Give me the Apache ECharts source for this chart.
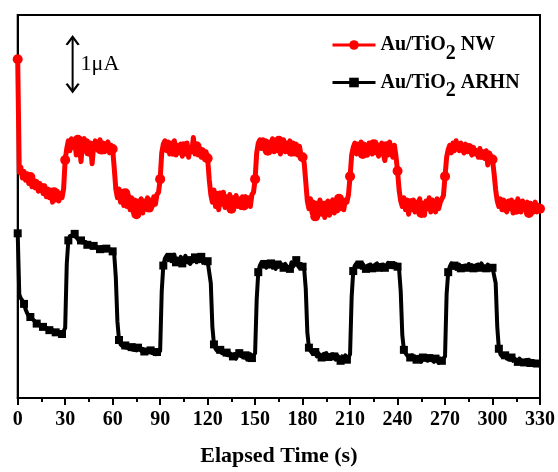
<!DOCTYPE html>
<html>
<head>
<meta charset="utf-8">
<script src="https://cdn.jsdelivr.net/npm/echarts@6/dist/echarts.min.js"></script>
<style>
  html, body { margin: 0; padding: 0; background: #fff; }
  #chart { width: 558px; height: 472px; }
</style>
</head>
<body>
<div id="chart"></div>
<script>
// Photocurrent traces, one sample per second from t = 0 s to t = 330 s (µA, arbitrary offset)
const sampleStep = 1;

const nwCurrent = [
  6.19,
  4.12, 4.22, 4.02, 4.14, 3.98, 4.10, 3.92, 4.04, 3.86, 3.99,
  3.84, 3.96, 3.78, 3.92, 3.84, 3.74, 3.88, 3.68, 3.82, 3.66,
  3.80, 3.58, 3.76, 3.62, 3.78, 3.60, 3.74, 3.66, 3.82, 4.35,
  4.56, 4.70, 4.52, 4.74, 4.58, 4.70, 4.44, 4.72, 4.60, 4.32,
  4.66, 4.74, 4.56, 4.70, 4.50, 4.66, 4.28, 4.60, 4.70, 4.56,
  4.52, 4.72, 4.54, 4.66, 4.50, 4.64, 4.68, 4.48, 4.62, 4.55,
  4.20, 3.82, 3.66, 3.82, 3.58, 3.78, 3.52, 3.74, 3.50, 3.70,
  3.44, 3.66, 3.40, 3.62, 3.36, 3.60, 3.42, 3.64, 3.38, 3.60,
  3.46, 3.66, 3.48, 3.62, 3.50, 3.68, 3.54, 3.72, 3.76, 4.00,
  4.48, 4.64, 4.70, 4.52, 4.68, 4.46, 4.66, 4.50, 4.70, 4.44,
  4.62, 4.48, 4.64, 4.42, 4.60, 4.46, 4.66, 4.40, 4.58, 4.50,
  4.76, 4.46, 4.60, 4.44, 4.56, 4.40, 4.54, 4.36, 4.50, 4.38,
  4.00, 3.72, 3.58, 3.80, 3.50, 3.74, 3.44, 3.70, 3.54, 3.76,
  3.48, 3.68, 3.50, 3.72, 3.46, 3.66, 3.52, 3.70, 3.50, 3.64,
  3.48, 3.68, 3.52, 3.68, 3.54, 3.66, 3.50, 3.72, 3.76, 4.00,
  4.48, 4.66, 4.72, 4.56, 4.72, 4.54, 4.70, 4.52, 4.68, 4.56,
  4.74, 4.50, 4.66, 4.52, 4.70, 4.46, 4.64, 4.72, 4.50, 4.66,
  4.54, 4.70, 4.50, 4.66, 4.46, 4.64, 4.44, 4.60, 4.44, 4.40,
  4.30, 3.95, 3.60, 3.46, 3.64, 3.38, 3.58, 3.32, 3.56, 3.40,
  3.62, 3.36, 3.56, 3.30, 3.52, 3.60, 3.34, 3.54, 3.62, 3.38,
  3.56, 3.42, 3.64, 3.46, 3.60, 3.44, 3.62, 3.58, 3.72, 4.05,
  4.44, 4.58, 4.66, 4.46, 4.64, 4.50, 4.68, 4.46, 4.64, 4.52,
  4.44, 4.66, 4.50, 4.46, 4.64, 4.48, 4.62, 4.42, 4.58, 4.66,
  4.46, 4.34, 4.60, 4.44, 4.68, 4.48, 4.40, 4.62, 4.42, 4.15,
  3.80, 3.60, 3.50, 3.66, 3.44, 3.62, 3.36, 3.56, 3.44, 3.62,
  3.40, 3.58, 3.46, 3.64, 3.38, 3.56, 3.34, 3.60, 3.46, 3.66,
  3.40, 3.62, 3.48, 3.40, 3.64, 3.46, 3.58, 3.64, 3.70, 4.05,
  4.40, 4.54, 4.62, 4.48, 4.66, 4.52, 4.70, 4.60, 4.52, 4.66,
  4.54, 4.48, 4.64, 4.50, 4.57, 4.60, 4.44, 4.58, 4.46, 4.52,
  4.40, 4.56, 4.44, 4.50, 4.38, 4.52, 4.26, 4.48, 4.42, 4.36,
  4.10, 3.80, 3.60, 3.50, 3.64, 3.44, 3.62, 3.48, 3.40, 3.60,
  3.46, 3.62, 3.38, 3.58, 3.44, 3.64, 3.46, 3.40, 3.60, 3.46,
  3.42, 3.58, 3.38, 3.56, 3.44, 3.40, 3.58, 3.40, 3.52, 3.46
];

const arhnCurrent = [
  3.01,
  1.89, 1.82, 1.78, 1.72, 1.62, 1.55, 1.50, 1.48, 1.45, 1.42,
  1.40, 1.36, 1.38, 1.34, 1.31, 1.30, 1.27, 1.28, 1.25, 1.24,
  1.22, 1.24, 1.21, 1.20, 1.22, 1.18, 1.20, 1.17, 1.22, 1.28,
  2.45, 2.88, 2.96, 2.99, 2.97, 3.00, 2.94, 2.90, 2.86, 2.88,
  2.84, 2.82, 2.85, 2.80, 2.82, 2.79, 2.81, 2.78, 2.80, 2.76,
  2.78, 2.72, 2.76, 2.74, 2.70, 2.73, 2.72, 2.69, 2.71, 2.68,
  2.62, 2.20, 1.40, 1.06, 0.98, 0.95, 0.93, 0.96, 0.92, 0.94,
  0.90, 0.93, 0.88, 0.91, 0.87, 0.92, 0.89, 0.86, 0.90, 0.85,
  0.88, 0.86, 0.84, 0.87, 0.82, 0.85, 0.80, 0.84, 0.82, 0.86,
  1.95, 2.42, 2.55, 2.60, 2.52, 2.58, 2.50, 2.56, 2.62, 2.48,
  2.55, 2.50, 2.58, 2.46, 2.54, 2.60, 2.50, 2.52, 2.45, 2.56,
  2.50, 2.57, 2.48, 2.54, 2.50, 2.58, 2.47, 2.52, 2.55, 2.50,
  2.48, 2.10, 1.30, 0.98, 0.90, 0.86, 0.84, 0.88, 0.82, 0.85,
  0.80, 0.83, 0.78, 0.82, 0.84, 0.76, 0.80, 0.72, 0.79, 0.82,
  0.77, 0.80, 0.74, 0.78, 0.70, 0.76, 0.80, 0.73, 0.78, 0.82,
  1.80, 2.30, 2.42, 2.48, 2.40, 2.45, 2.38, 2.44, 2.40, 2.46,
  2.38, 2.42, 2.36, 2.44, 2.40, 2.47, 2.41, 2.38, 2.45, 2.40,
  2.43, 2.36, 2.48, 2.40, 2.44, 2.52, 2.42, 2.38, 2.45, 2.40,
  2.36, 2.00, 1.20, 0.92, 0.86, 0.82, 0.80, 0.84, 0.76, 0.82,
  0.79, 0.74, 0.80, 0.77, 0.82, 0.75, 0.78, 0.72, 0.80, 0.76,
  0.70, 0.78, 0.74, 0.68, 0.76, 0.72, 0.78, 0.70, 0.74, 0.80,
  1.85, 2.32, 2.42, 2.46, 2.40, 2.44, 2.38, 2.45, 2.41, 2.36,
  2.42, 2.39, 2.44, 2.37, 2.42, 2.40, 2.46, 2.38, 2.43, 2.40,
  2.44, 2.38, 2.42, 2.47, 2.40, 2.43, 2.39, 2.42, 2.45, 2.40,
  2.34, 1.95, 1.15, 0.88, 0.82, 0.78, 0.80, 0.74, 0.78, 0.72,
  0.76, 0.70, 0.75, 0.72, 0.66, 0.74, 0.70, 0.76, 0.68, 0.73,
  0.70, 0.74, 0.66, 0.72, 0.69, 0.64, 0.72, 0.68, 0.70, 0.76,
  1.90, 2.30, 2.40, 2.46, 2.38, 2.42, 2.36, 2.40, 2.44, 2.37,
  2.41, 2.36, 2.42, 2.38, 2.45, 2.39, 2.43, 2.37, 2.42, 2.40,
  2.44, 2.38, 2.46, 2.40, 2.42, 2.37, 2.44, 2.40, 2.43, 2.38,
  2.40, 2.10, 1.30, 0.90, 0.80, 0.76, 0.74, 0.78, 0.72, 0.75,
  0.70, 0.74, 0.68, 0.72, 0.70, 0.66, 0.72, 0.68, 0.70, 0.65,
  0.69, 0.66, 0.70, 0.64, 0.68, 0.62, 0.66, 0.63, 0.60, 0.62
];

// The NW trace carries a circle marker every 7.5 s (nearest sample)
const nwMarkerPeriod = 7.5;
// The ARHN trace carries a square marker every n-th sample
const arhnMarkerEvery = 4;

// Time axis
const timeMin = 0, timeMax = 330, timeTickStep = 30;
// Current axis (µA)
const currentMin = 0, currentMax = 7;

// 1 µA scale bar
const scaleBarTime = 34.7;
const scaleBarBase = 5.6;
const scaleBarSpan = 1;
const scaleBarText = '1μA';

const seriesNames = ['Au/TiO2 NW', 'Au/TiO2 ARHN'];

const serif = "'Liberation Serif', 'Times New Roman', serif";

const toPairs = (values) => values.map((v, i) => [i * sampleStep, v]);
const isNwMarker = (t) => Math.round(Math.round(t / nwMarkerPeriod) * nwMarkerPeriod) === t;

const chart = echarts.init(document.getElementById('chart'), null, { renderer: 'canvas' });

chart.setOption({
  animation: false,
  backgroundColor: '#fff',
  grid: {
    left: 17.7, right: 17.5, top: 15, bottom: 71,
    show: true,
    borderColor: '#000',
    borderWidth: 2,
    backgroundColor: 'transparent'
  },
  legend: {
    data: seriesNames,
    orient: 'vertical',
    left: 331,
    top: 35,
    padding: 0,
    itemGap: 9,
    itemWidth: 43,
    itemHeight: 12,
    lineStyle: { width: 3 },
    selectedMode: false,
    formatter: (name) => name.replace('TiO2', 'TiO{s|2}'),
    textStyle: {
      fontFamily: serif,
      fontWeight: 'bold',
      fontSize: 20,
      color: '#000',
      rich: {
        s: {
          fontFamily: serif,
          fontWeight: 'bold',
          fontSize: 20,
          color: '#000',
          padding: [17, 0, 0, 0]
        }
      }
    }
  },
  xAxis: {
    type: 'value',
    min: timeMin,
    max: timeMax,
    interval: timeTickStep,
    name: 'Elapsed Time (s)',
    nameLocation: 'middle',
    nameGap: 47,
    nameTextStyle: { fontFamily: serif, fontWeight: 'bold', fontSize: 22, color: '#000' },
    axisLine: { show: true, onZero: false, lineStyle: { color: '#000', width: 2 } },
    axisTick: { show: true, inside: false, length: 7, lineStyle: { color: '#000', width: 2 } },
    minorTick: { show: true, splitNumber: 2, length: 4, lineStyle: { color: '#000', width: 2 } },
    axisLabel: { fontFamily: serif, fontWeight: 'bold', fontSize: 20, color: '#000', margin: 12 },
    splitLine: { show: false },
    minorSplitLine: { show: false }
  },
  yAxis: {
    type: 'value',
    min: currentMin,
    max: currentMax,
    axisLine: { show: true, onZero: false, lineStyle: { color: '#000', width: 2 } },
    axisTick: { show: false },
    axisLabel: { show: false },
    splitLine: { show: false }
  },
  series: [
    {
      name: seriesNames[0],
      type: 'line',
      data: toPairs(nwCurrent),
      color: '#ff0000',
      symbol: 'circle',
      showSymbol: true,
      showAllSymbol: true,
      symbolSize: (val) => (isNwMarker(val[0]) ? 10 : 0),
      lineStyle: { color: '#ff0000', width: 5, join: 'round' },
      itemStyle: { color: '#ff0000' },
      z: 3
    },
    {
      name: seriesNames[1],
      type: 'line',
      data: toPairs(arhnCurrent),
      color: '#000000',
      symbol: 'rect',
      showSymbol: true,
      showAllSymbol: true,
      symbolSize: (val, params) => (params.dataIndex % arhnMarkerEvery === 0 ? 8 : 0),
      lineStyle: { color: '#000000', width: 4, join: 'round' },
      itemStyle: { color: '#000000' },
      z: 3
    },
    {
      name: 'scale',
      type: 'line',
      silent: true,
      data: [
        { value: [scaleBarTime, scaleBarBase], symbol: 'path://M0,0L6,8L12,0', symbolOffset: [0, -4] },
        {
          value: [scaleBarTime, scaleBarBase + scaleBarSpan / 2],
          symbol: 'circle', symbolSize: 0,
          label: {
            show: true, position: 'right', distance: 8,
            formatter: scaleBarText,
            fontFamily: serif, fontSize: 22, color: '#000'
          }
        },
        { value: [scaleBarTime, scaleBarBase + scaleBarSpan], symbol: 'path://M0,8L6,0L12,8', symbolOffset: [0, 4] }
      ],
      symbolSize: [12, 8],
      showSymbol: true,
      lineStyle: { color: '#000', width: 2 },
      itemStyle: { color: 'none', borderColor: '#000', borderWidth: 2 },
      z: 4
    }
  ]
});
</script>
</body>
</html>
